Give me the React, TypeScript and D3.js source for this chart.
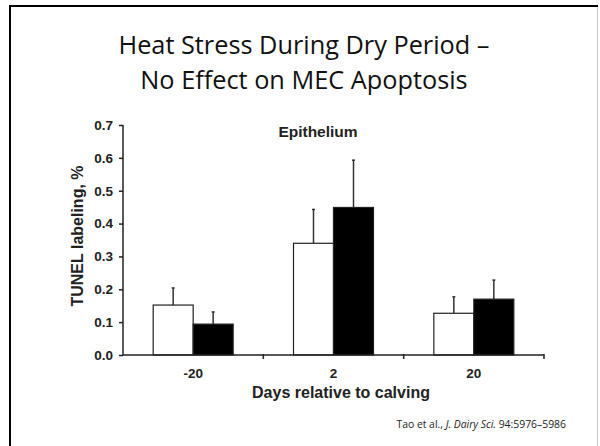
import React, { useEffect, useRef } from 'react';
import * as d3 from 'd3';

const days = ['-20', '2', '20'];
const seriesNames = ['Cooled', 'Heat stressed'];
const cooledMeans = [0.152, 0.34, 0.127];
const cooledSE = [0.052, 0.103, 0.05];
const heatMeans = [0.094, 0.449, 0.17];
const heatSE = [0.037, 0.144, 0.058];
const yTicks = [0, 0.1, 0.2, 0.3, 0.4, 0.5, 0.6, 0.7];

const App = () => {
  const svgRef = useRef<SVGSVGElement>(null);

  useEffect(() => {
    const W = 600;
    const H = 446;
    const plot = { left: 123, right: 544, top: 125, bottom: 355 };
    const bold = '"Liberation Sans", Arial, sans-serif';
    const slideFont = '"Open Sans", "Noto Sans", sans-serif';

    const svg = d3.select(svgRef.current).attr('width', W).attr('height', H);
    svg.selectAll('*').remove();

    // slide frame
    svg.append('rect').attr('width', W).attr('height', H).attr('fill', '#fff');
    svg.append('line').attr('x1', 10).attr('x2', 10).attr('y1', 5).attr('y2', H)
      .attr('stroke', '#000').attr('stroke-width', 2);
    svg.append('line').attr('x1', 9).attr('x2', 598).attr('y1', 6).attr('y2', 6)
      .attr('stroke', '#000').attr('stroke-width', 2);
    svg.append('line').attr('x1', 597.5).attr('x2', 597.5).attr('y1', 7).attr('y2', H)
      .attr('stroke', '#c8c8c8').attr('stroke-width', 1);

    // title
    const title = svg.append('text').attr('text-anchor', 'middle')
      .attr('font-family', slideFont).attr('font-size', 25.3).attr('fill', '#111');
    title.append('tspan').attr('x', 304).attr('y', 54).text('Heat Stress During Dry Period –');
    title.append('tspan').attr('x', 304).attr('y', 89).text('No Effect on MEC Apoptosis');

    const x0 = d3.scaleBand().domain(days).range([plot.left, plot.right]).padding(0);
    const groupW = x0.bandwidth() * 0.57;
    const x1 = d3.scaleBand().domain(seriesNames).range([0, groupW]).padding(0);
    const y = d3.scaleLinear().domain([0, 0.7]).range([plot.bottom, plot.top]);

    const rows = days.map((d, i) => ({
      day: d,
      vals: [
        { name: seriesNames[0], mean: cooledMeans[i], se: cooledSE[i], fill: '#fff' },
        { name: seriesNames[1], mean: heatMeans[i], se: heatSE[i], fill: '#000' }
      ]
    }));

    const g = svg.append('g');
    rows.forEach((r) => {
      const gx = (x0(r.day) as number) + (x0.bandwidth() - groupW) / 2;
      r.vals.forEach((v) => {
        const bx = gx + (x1(v.name) as number);
        const cx = bx + x1.bandwidth() / 2;
        // error bar (upper only)
        g.append('line').attr('x1', cx).attr('x2', cx)
          .attr('y1', y(v.mean)).attr('y2', y(v.mean + v.se))
          .attr('stroke', '#333').attr('stroke-width', 1.5);
        g.append('line').attr('x1', cx - 1.5).attr('x2', cx + 1.5)
          .attr('y1', y(v.mean + v.se)).attr('y2', y(v.mean + v.se))
          .attr('stroke', '#333').attr('stroke-width', 1.5);
        g.append('rect').attr('x', bx).attr('y', y(v.mean))
          .attr('width', x1.bandwidth()).attr('height', plot.bottom - y(v.mean))
          .attr('fill', v.fill).attr('stroke', '#222').attr('stroke-width', 1.2);
      });
    });

    // y axis
    const yAxis = svg.append('g').attr('transform', `translate(${plot.left},0)`)
      .call(d3.axisLeft(y).tickValues(yTicks).tickFormat(d3.format('.1f')).tickSize(4).tickPadding(6));
    yAxis.select('.domain').attr('stroke', '#222').attr('stroke-width', 1.5)
      .attr('d', `M0,${plot.top}V${plot.bottom}`);
    yAxis.selectAll('.tick line').attr('stroke', '#222').attr('stroke-width', 1.5);
    yAxis.selectAll('text').attr('font-family', bold).attr('font-weight', 'bold')
      .attr('font-size', 13.5).attr('fill', '#222');

    // x axis
    const xa = svg.append('g').attr('transform', `translate(0,${plot.bottom})`);
    xa.append('line').attr('x1', plot.left).attr('x2', plot.right).attr('y1', 0).attr('y2', 0)
      .attr('stroke', '#222').attr('stroke-width', 1.5);
    days.forEach((d) => {
      const right = (x0(d) as number) + x0.bandwidth();
      xa.append('line').attr('x1', right).attr('x2', right).attr('y1', -1).attr('y2', 4)
        .attr('stroke', '#222').attr('stroke-width', 1.5);
      xa.append('text').attr('x', (x0(d) as number) + x0.bandwidth() / 2).attr('y', 23)
        .attr('text-anchor', 'middle').attr('font-family', bold).attr('font-weight', 'bold')
        .attr('font-size', 13.5).attr('fill', '#222').text(d);
    });

    // axis titles
    svg.append('text').attr('x', 341).attr('y', 398).attr('text-anchor', 'middle')
      .attr('font-family', bold).attr('font-weight', 'bold').attr('font-size', 16)
      .attr('fill', '#222').text('Days relative to calving');
    svg.append('text').attr('transform', 'translate(83,236) rotate(-90)')
      .attr('text-anchor', 'middle').attr('font-family', bold).attr('font-weight', 'bold')
      .attr('font-size', 16).attr('fill', '#222').text('TUNEL labeling, %');
    svg.append('text').attr('x', 318).attr('y', 137).attr('text-anchor', 'middle')
      .attr('font-family', bold).attr('font-weight', 'bold').attr('font-size', 15.5)
      .attr('fill', '#222').text('Epithelium');

    // citation
    const cite = svg.append('text').attr('x', 566).attr('y', 428).attr('text-anchor', 'end')
      .attr('font-family', slideFont).attr('font-size', 10.4).attr('fill', '#222');
    cite.append('tspan').text('Tao et al., ');
    cite.append('tspan').attr('font-style', 'italic').text('J. Dairy Sci.');
    cite.append('tspan').text(' 94:5976–5986');
  }, []);

  return <svg ref={svgRef} style={{ position: 'absolute', left: 0, top: 0 }}></svg>;
};

export default App;
